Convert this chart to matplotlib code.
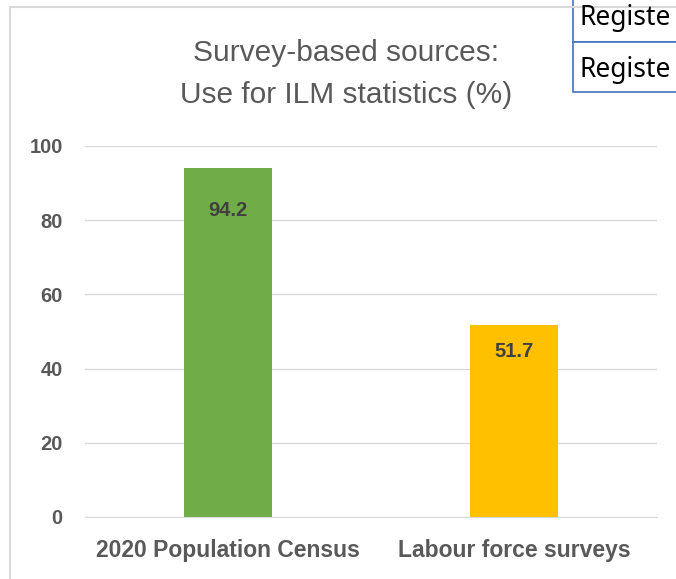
import matplotlib
matplotlib.use("Agg")
import matplotlib.pyplot as plt
from matplotlib.patches import Rectangle
from matplotlib.lines import Line2D

categories = ["2020 Population Census", "Labour force surveys"]
values = [94.2, 51.7]
colors = ["#70ad47", "#ffc000"]
yticks = [0, 20, 40, 60, 80, 100]
title = "Survey-based sources:\nUse for ILM statistics (%)"
side_labels = ["Registe", "Registe"]

W, H = 676, 579
dpi = 100
fig = plt.figure(figsize=(W / dpi, H / dpi), dpi=dpi)
fig.patch.set_facecolor("white")

def fx(px):
    return px / W

def fy(py):
    return 1 - py / H

# chart border
fig.add_artist(Line2D([fx(10), fx(10)], [fy(7), fy(579)], color="#d9d9d9", lw=1.5))
fig.add_artist(Line2D([fx(10), fx(676)], [fy(7), fy(7)], color="#d9d9d9", lw=1.5))

ax = fig.add_axes([fx(85), fy(517), fx(657) - fx(85), fy(146) - fy(517)])
x = list(range(len(categories)))
ax.bar(x, values, width=0.31, color=colors, zorder=3)
ax.set_xlim(-0.5, len(categories) - 0.5)
ax.set_ylim(0, 100)
ax.set_yticks(yticks)
ax.set_yticklabels([str(t) for t in yticks], fontsize=14.5, fontweight="bold",
                   color="#595959", family=["Liberation Sans", "DejaVu Sans"])
ax.set_xticks(x)
ax.set_xticklabels(categories, fontsize=16.5, fontweight="bold", color="#595959",
                   family=["Liberation Sans", "DejaVu Sans"])
ax.tick_params(axis="y", length=0, pad=16)
ax.tick_params(axis="x", length=0, pad=16)
ax.grid(axis="y", color="#d9d9d9", lw=1, zorder=0)
for s in ax.spines.values():
    s.set_visible(False)
ax.spines["bottom"].set_visible(True)
ax.spines["bottom"].set_color("#d9d9d9")
ax.spines["bottom"].set_zorder(4)

label_offsets_pt = [-31, -19]
for xi, v, off in zip(x, values, label_offsets_pt):
    ax.annotate(f"{v}", (xi, v), xytext=(0, off), textcoords="offset points",
                ha="center", va="center", fontsize=14.5, fontweight="bold",
                color="#404040", family=["Liberation Sans", "DejaVu Sans"], zorder=5)

fig.text(fx(346), fy(74), title, ha="center", va="center", fontsize=21.5,
         color="#595959", linespacing=1.62, family=["Liberation Sans", "DejaVu Sans"])

# table fragment at top right
box_l, box_r = 573, 680
rows = [(-2, 42), (42, 92)]
text_y = [18, 70]
for (t, b), ty, lab in zip(rows, text_y, side_labels):
    fig.add_artist(Rectangle((fx(box_l), fy(b)), fx(box_r) - fx(box_l), fy(t) - fy(b),
                             fill=True, facecolor="white", edgecolor="#4472c4", lw=1.2,
                             transform=fig.transFigure, clip_on=False))
    fig.text(fx(579), fy(ty), lab, ha="left", va="center", fontsize=19,
             color="#000000", family=["Noto Sans", "DejaVu Sans"])

fig.savefig("out.png", dpi=dpi)
